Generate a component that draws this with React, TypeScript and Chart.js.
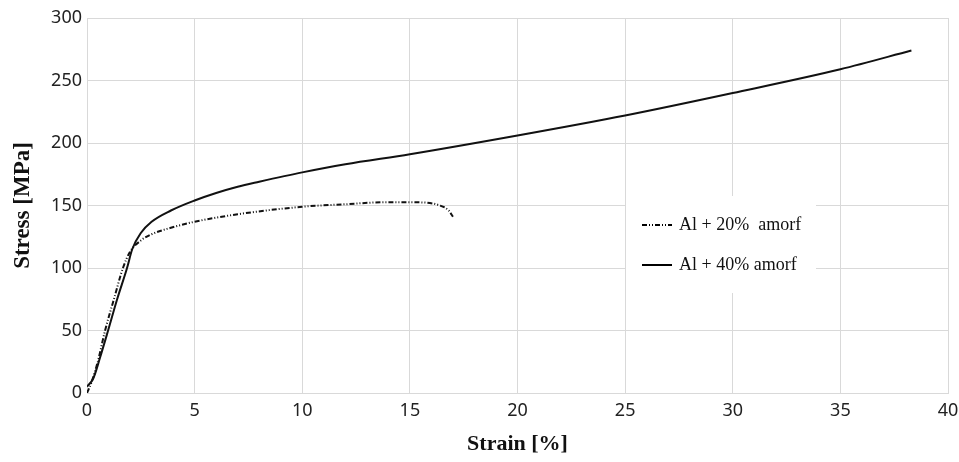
import React, { useEffect, useRef } from "react";
import { Chart, registerables } from "chart.js";

Chart.register(...registerables);

const strain20 = [0, 0.2, 0.5, 0.84, 1.25, 1.67, 2.0, 2.5, 3, 3.86, 5, 7, 10, 12, 14, 15.5, 16.4, 16.8, 17.0];
const stress20 = [0, 8, 25, 50, 75, 100, 113, 122, 127, 132, 137, 143, 149, 151, 152.7, 152.5, 150, 146, 141];

const strain40 = [0, 0.3, 0.6, 0.98, 1.4, 1.86, 2.1, 2.5, 3, 3.9, 5, 6, 7, 8, 10, 12, 15, 20, 25, 30, 35, 38.3];
const stress40 = [5, 12, 28, 50, 75, 100, 115, 128, 137, 146, 154, 160, 165, 169, 176.5, 183, 191, 206, 222, 240, 259, 274];

const labels = ["Al + 20%  amorf", "Al + 40% amorf"];
const xTicks = [0, 5, 10, 15, 20, 25, 30, 35, 40];
const yTicks = [0, 50, 100, 150, 200, 250, 300];

const dash20 = [5, 2, 1, 2, 1, 2];

const legendPlugin = {
  id: "boxLegend",
  afterDatasetsDraw(chart: any) {
    const ctx = chart.ctx;
    ctx.save();
    ctx.fillStyle = "#ffffff";
    ctx.fillRect(626, 196, 190, 97);
    const rows = [225, 265];
    chart.data.datasets.forEach((ds: any, i: number) => {
      ctx.beginPath();
      ctx.strokeStyle = "#000";
      ctx.lineWidth = 2;
      ctx.setLineDash(ds.borderDash || []);
      ctx.moveTo(642, rows[i]);
      ctx.lineTo(672, rows[i]);
      ctx.stroke();
      ctx.setLineDash([]);
      ctx.fillStyle = "#111";
      ctx.font = "18px 'Liberation Serif'";
      ctx.textBaseline = "middle";
      ctx.textAlign = "left";
      ctx.fillText(ds.label, 679, rows[i]);
    });
    ctx.restore();
  },
};

export default function App() {
  const ref = useRef<HTMLCanvasElement>(null);
  useEffect(() => {
    document.body.style.margin = "0";
    const d20 = strain20.map((x, i) => ({ x, y: stress20[i] }));
    const d40 = strain40.map((x, i) => ({ x, y: stress40[i] }));
    const chart = new Chart(ref.current!, {
      type: "line",
      data: {
        datasets: [
          {
            label: labels[0],
            data: d20,
            borderColor: "#111",
            borderWidth: 2,
            borderDash: dash20,
            pointRadius: 0,
            cubicInterpolationMode: "monotone",
            fill: false,
          },
          {
            label: labels[1],
            data: d40,
            borderColor: "#111",
            borderWidth: 2,
            pointRadius: 0,
            cubicInterpolationMode: "monotone",
            fill: false,
          },
        ],
      },
      options: {
        animation: false,
        responsive: false,
        layout: { padding: { top: 18, right: 11, left: 0, bottom: 0 } },
        plugins: { legend: { display: false }, tooltip: { enabled: false } },
        scales: {
          x: {
            type: "linear",
            min: 0,
            max: 40,
            afterBuildTicks: (s: any) => {
              s.ticks = xTicks.map((v) => ({ value: v }));
            },
            afterFit: (s: any) => {
              s.height = 69;
              s.paddingLeft = 0;
              s.paddingRight = 0;
            },
            grid: { color: "#d9d9d9", drawTicks: false, lineWidth: 1 },
            border: { color: "#d9d9d9" },
            ticks: { color: "#222", font: { family: "'Noto Sans'", size: 18 }, padding: 7, maxRotation: 0 },
            title: {
              display: true,
              text: "Strain [%]",
              color: "#111",
              font: { family: "'Liberation Serif'", size: 22, weight: "bold" },
              padding: { top: 0, bottom: 4 },
            },
          },
          y: {
            min: 0,
            max: 300,
            afterBuildTicks: (s: any) => {
              s.ticks = yTicks.map((v) => ({ value: v }));
            },
            afterFit: (s: any) => {
              s.width = 87;
            },
            grid: { color: "#d9d9d9", drawTicks: false, lineWidth: 1 },
            border: { color: "#d9d9d9" },
            ticks: { color: "#222", font: { family: "'Noto Sans'", size: 18 }, padding: 5 },
            title: {
              display: true,
              text: "Stress [MPa]",
              color: "#111",
              font: { family: "'Liberation Serif'", size: 23, weight: "bold" },
              padding: { top: 9, bottom: 0 },
            },
          },
        },
      },
      plugins: [
        legendPlugin,
        {
          id: "rightBorder",
          afterDraw(chart: any) {
            const { ctx, chartArea } = chart;
            ctx.save();
            ctx.strokeStyle = "#d9d9d9";
            ctx.lineWidth = 1;
            ctx.beginPath();
            ctx.moveTo(Math.round(chartArea.right) + 0.5, chartArea.top);
            ctx.lineTo(Math.round(chartArea.right) + 0.5, chartArea.bottom);
            ctx.stroke();
            ctx.restore();
          },
        },
      ],
    } as any);
    return () => chart.destroy();
  }, []);
  return (
    <div style={{ width: 959, height: 462 }}>
      <canvas ref={ref} width={959} height={462} style={{ display: "block" }} />
    </div>
  );
}
